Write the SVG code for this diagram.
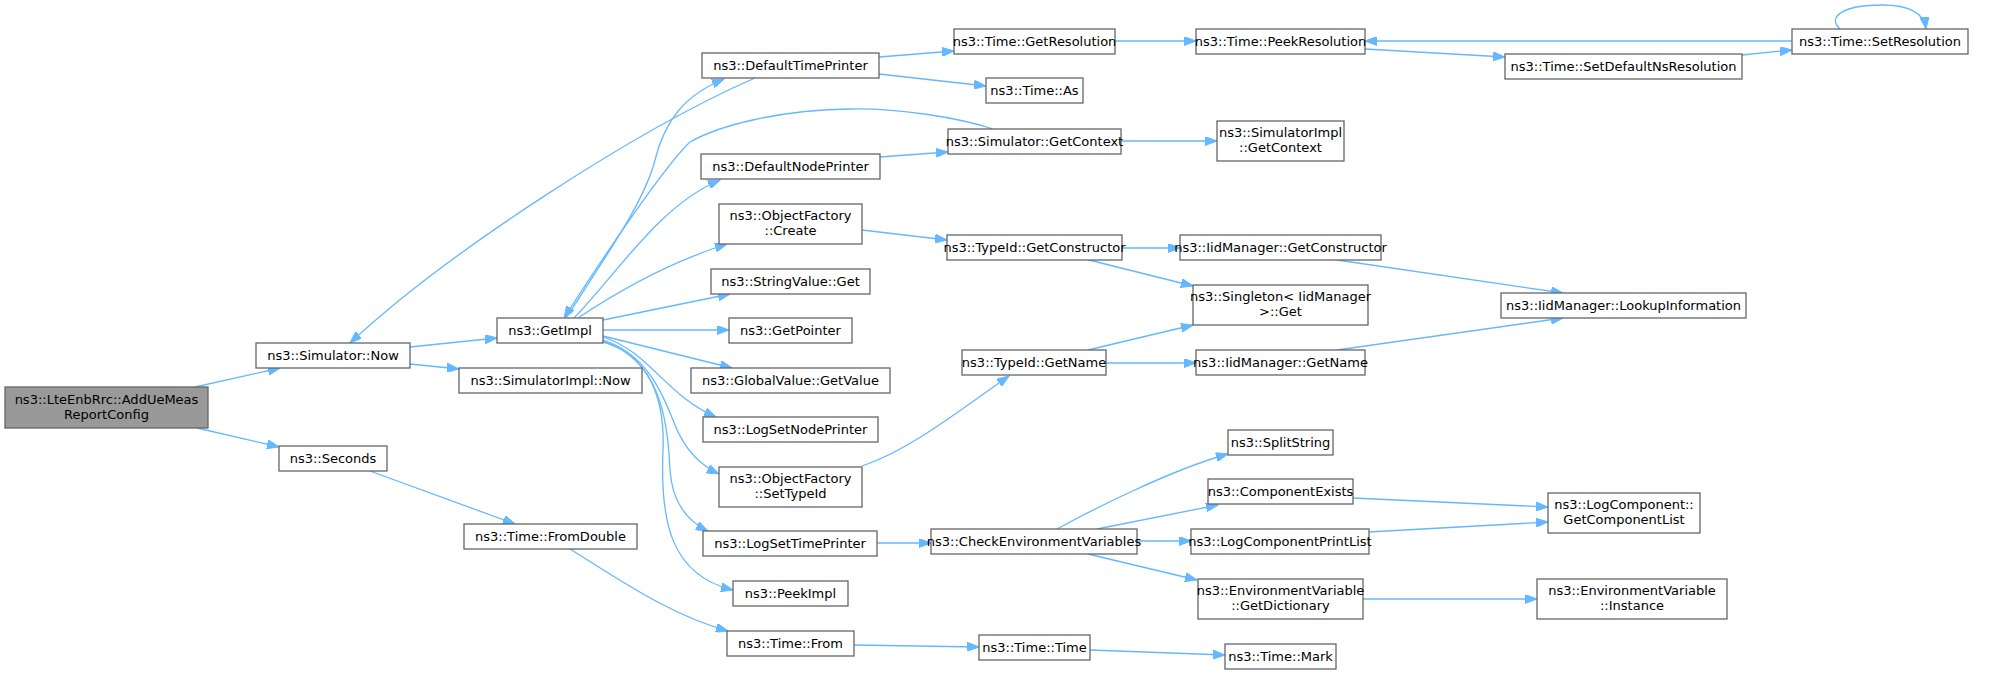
<svg xmlns="http://www.w3.org/2000/svg" width="1997" height="673" viewBox="0 0 1997 673">
<style>
.n rect{fill:#ffffff;stroke:#666666;stroke-width:1.3}
.n.main rect{fill:#999999}
.n text{font-family:"DejaVu Sans","Liberation Sans",sans-serif;font-size:13px;fill:#000000;text-anchor:middle}
#edges path{fill:none;stroke:#63b8ff;stroke-width:1.3;marker-end:url(#ah)}
</style>
<defs>
<marker id="ah" markerUnits="userSpaceOnUse" markerWidth="13" markerHeight="9" refX="12" refY="4.5" orient="auto" viewBox="0 0 13 9">
<path d="M0,0 L12,4.5 L0,9 z" fill="#63b8ff" stroke="#63b8ff" stroke-width="1"/>
</marker>
</defs>
<rect width="1997" height="673" fill="#ffffff"/>
<g id="edges">
<path d="M195,387 L280,368"/>
<path d="M197,428 L279,447"/>
<path d="M410,347 L497,338"/>
<path d="M410,364 L459,369"/>
<path d="M755,78 C640,128 450,250 350,343"/>
<path d="M566,318 C610,250 645,200 655,160 C665,120 685,95 724,79"/>
<path d="M993,129 C960,118 900,108 850,109 C780,110 720,125 690,142 C665,165 600,262 564,318"/>
<path d="M574,318 C620,270 660,205 720,180"/>
<path d="M578,318 C620,290 670,262 727,244"/>
<path d="M603,320 L730,294"/>
<path d="M603,330 L729,330"/>
<path d="M603,336 L732,368"/>
<path d="M603,337 C650,352 665,395 716,417"/>
<path d="M603,340 C650,355 665,400 675,425 C685,450 700,465 719,474"/>
<path d="M603,341 C660,360 668,420 670,470 C672,500 685,520 708,531"/>
<path d="M603,342 C650,355 665,400 663,450 C660,520 670,575 733,590"/>
<path d="M370,471 L515,524"/>
<path d="M570,549 C620,580 670,615 728,631"/>
<path d="M854,645 L979,647"/>
<path d="M1090,650 L1225,655"/>
<path d="M879,57 L954,51"/>
<path d="M879,74 L986,86"/>
<path d="M1115,41 L1196,41"/>
<path d="M1365,49 L1505,57"/>
<path d="M1742,55 L1792,50"/>
<path d="M1792,41 L1365,41"/>
<path d="M1840,29 C1826,16 1845,5 1882,5 C1910,5 1924,13 1926,29"/>
<path d="M880,157 L948,152"/>
<path d="M1121,141 L1217,141"/>
<path d="M862,230 L947,240"/>
<path d="M1122,248 L1180,248"/>
<path d="M1089,260 L1193,286"/>
<path d="M1337,260 L1563,293"/>
<path d="M862,466 C910,450 960,410 1009,376"/>
<path d="M1088,350 L1193,325"/>
<path d="M1106,363 L1196,363"/>
<path d="M1337,350 L1563,318"/>
<path d="M877,543 L931,543"/>
<path d="M1057,529 C1090,511 1170,470 1228,454"/>
<path d="M1097,529 L1218,505"/>
<path d="M1137,541 L1191,541"/>
<path d="M1088,554 L1197,580"/>
<path d="M1353,498 L1548,507"/>
<path d="M1369,532 L1548,522"/>
<path d="M1363,599 L1537,599"/>
</g>
<g id="n0" class="n main"><rect x="5" y="387" width="203" height="41"/><text x="106.5" y="404">ns3::LteEnbRrc::AddUeMeas</text><text x="106.5" y="419">ReportConfig</text></g>
<g id="n1" class="n"><rect x="256" y="343" width="154" height="25"/><text x="333" y="360">ns3::Simulator::Now</text></g>
<g id="n2" class="n"><rect x="279" y="446" width="108" height="25"/><text x="333" y="463">ns3::Seconds</text></g>
<g id="n3" class="n"><rect x="497" y="318" width="106" height="25"/><text x="550" y="335">ns3::GetImpl</text></g>
<g id="n4" class="n"><rect x="459" y="368" width="183" height="25"/><text x="550.5" y="385">ns3::SimulatorImpl::Now</text></g>
<g id="n5" class="n"><rect x="702" y="53" width="177" height="25"/><text x="790.5" y="70">ns3::DefaultTimePrinter</text></g>
<g id="n6" class="n"><rect x="701" y="154" width="179" height="25"/><text x="790.5" y="171">ns3::DefaultNodePrinter</text></g>
<g id="n7" class="n"><rect x="719" y="204" width="143" height="40"/><text x="790.5" y="220">ns3::ObjectFactory</text><text x="790.5" y="235">::Create</text></g>
<g id="n8" class="n"><rect x="711" y="269" width="159" height="25"/><text x="790.5" y="286">ns3::StringValue::Get</text></g>
<g id="n9" class="n"><rect x="729" y="318" width="123" height="25"/><text x="790.5" y="335">ns3::GetPointer</text></g>
<g id="n10" class="n"><rect x="691" y="368" width="199" height="25"/><text x="790.5" y="385">ns3::GlobalValue::GetValue</text></g>
<g id="n11" class="n"><rect x="703" y="417" width="175" height="25"/><text x="790.5" y="434">ns3::LogSetNodePrinter</text></g>
<g id="n12" class="n"><rect x="719" y="467" width="143" height="40"/><text x="790.5" y="483">ns3::ObjectFactory</text><text x="790.5" y="498">::SetTypeId</text></g>
<g id="n13" class="n"><rect x="703" y="531" width="174" height="25"/><text x="790" y="548">ns3::LogSetTimePrinter</text></g>
<g id="n14" class="n"><rect x="733" y="581" width="115" height="25"/><text x="790.5" y="598">ns3::PeekImpl</text></g>
<g id="n15" class="n"><rect x="464" y="524" width="173" height="25"/><text x="550.5" y="541">ns3::Time::FromDouble</text></g>
<g id="n16" class="n"><rect x="727" y="631" width="127" height="25"/><text x="790.5" y="648">ns3::Time::From</text></g>
<g id="n17" class="n"><rect x="954" y="29" width="161" height="25"/><text x="1034.5" y="46">ns3::Time::GetResolution</text></g>
<g id="n18" class="n"><rect x="1196" y="29" width="169" height="25"/><text x="1280.5" y="46">ns3::Time::PeekResolution</text></g>
<g id="n19" class="n"><rect x="986" y="78" width="97" height="25"/><text x="1034.5" y="95">ns3::Time::As</text></g>
<g id="n20" class="n"><rect x="948" y="129" width="173" height="25"/><text x="1034.5" y="146">ns3::Simulator::GetContext</text></g>
<g id="n21" class="n"><rect x="1217" y="121" width="127" height="40"/><text x="1280.5" y="137">ns3::SimulatorImpl</text><text x="1280.5" y="152">::GetContext</text></g>
<g id="n22" class="n"><rect x="947" y="235" width="175" height="25"/><text x="1034.5" y="252">ns3::TypeId::GetConstructor</text></g>
<g id="n23" class="n"><rect x="1180" y="235" width="201" height="25"/><text x="1280.5" y="252">ns3::IidManager::GetConstructor</text></g>
<g id="n24" class="n"><rect x="1193" y="285" width="175" height="40"/><text x="1280.5" y="301">ns3::Singleton&lt; IidManager</text><text x="1280.5" y="316"> &gt;::Get</text></g>
<g id="n25" class="n"><rect x="962" y="350" width="144" height="25"/><text x="1034" y="367">ns3::TypeId::GetName</text></g>
<g id="n26" class="n"><rect x="1196" y="350" width="169" height="25"/><text x="1280.5" y="367">ns3::IidManager::GetName</text></g>
<g id="n27" class="n"><rect x="1228" y="430" width="105" height="25"/><text x="1280.5" y="447">ns3::SplitString</text></g>
<g id="n28" class="n"><rect x="1208" y="479" width="145" height="25"/><text x="1280.5" y="496">ns3::ComponentExists</text></g>
<g id="n29" class="n"><rect x="931" y="529" width="206" height="25"/><text x="1034" y="546">ns3::CheckEnvironmentVariables</text></g>
<g id="n30" class="n"><rect x="1191" y="529" width="178" height="25"/><text x="1280" y="546">ns3::LogComponentPrintList</text></g>
<g id="n31" class="n"><rect x="1198" y="579" width="165" height="40"/><text x="1280.5" y="595">ns3::EnvironmentVariable</text><text x="1280.5" y="610">::GetDictionary</text></g>
<g id="n32" class="n"><rect x="979" y="635" width="111" height="25"/><text x="1034.5" y="652">ns3::Time::Time</text></g>
<g id="n33" class="n"><rect x="1225" y="644" width="111" height="25"/><text x="1280.5" y="661">ns3::Time::Mark</text></g>
<g id="n34" class="n"><rect x="1792" y="29" width="176" height="25"/><text x="1880" y="46">ns3::Time::SetResolution</text></g>
<g id="n35" class="n"><rect x="1505" y="54" width="237" height="25"/><text x="1623.5" y="71">ns3::Time::SetDefaultNsResolution</text></g>
<g id="n36" class="n"><rect x="1501" y="293" width="245" height="25"/><text x="1623.5" y="310">ns3::IidManager::LookupInformation</text></g>
<g id="n37" class="n"><rect x="1548" y="493" width="152" height="40"/><text x="1624" y="509">ns3::LogComponent::</text><text x="1624" y="524">GetComponentList</text></g>
<g id="n38" class="n"><rect x="1537" y="579" width="190" height="40"/><text x="1632" y="595">ns3::EnvironmentVariable</text><text x="1632" y="610">::Instance</text></g>
</svg>
